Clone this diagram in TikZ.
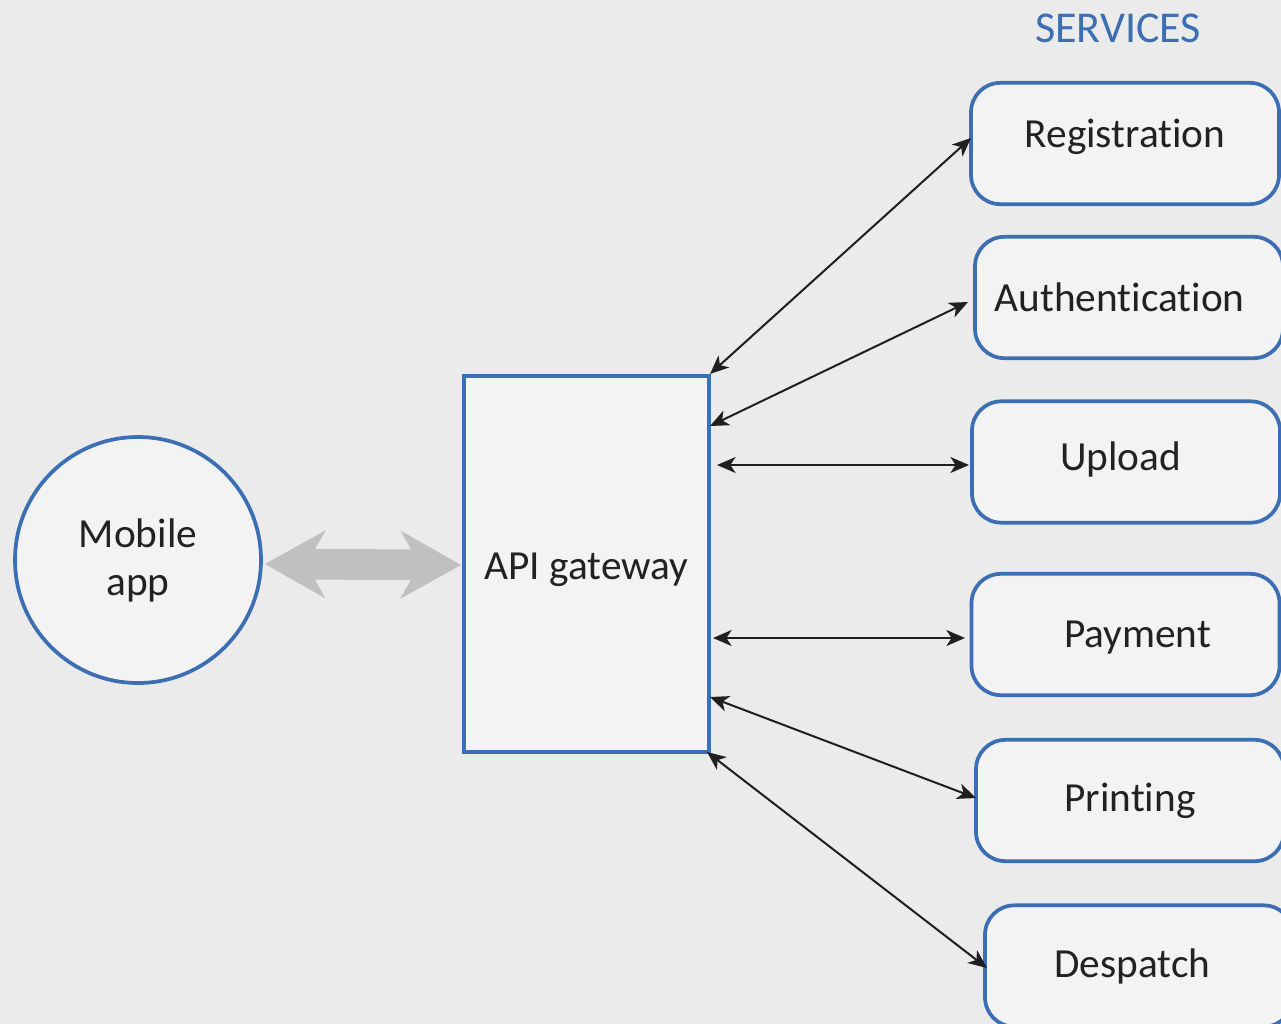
\documentclass[tikz,border=0pt]{standalone}
\usepackage{fontspec}
\setmainfont[Ligatures=NoCommon]{Carlito}
\usetikzlibrary{arrows.meta,calc}
\definecolor{bg}{HTML}{EBEBEB}
\definecolor{boxfill}{HTML}{F3F3F3}
\definecolor{boxblue}{RGB}{60,110,180}
\definecolor{txt}{HTML}{222222}
\definecolor{fat}{HTML}{C0C0C0}
\newcommand{\shiftup}[2]{\raisebox{#1}[\height][\depth]{#2}}
\tikzset{
  every node/.style={font=\fontsize{31}{36}\selectfont, text=txt},
  svc/.style={draw=boxblue, line width=2.8pt, fill=boxfill, rounded corners=22pt,
    minimum width=231pt, minimum height=91pt, inner sep=0pt},
  gate/.style={draw=boxblue, line width=2.8pt, fill=boxfill, minimum width=183.75pt,
    minimum height=282pt, inner sep=0pt},
  appc/.style={circle, draw=boxblue, line width=2.8pt, fill=boxfill, minimum size=184.5pt,
    inner sep=0pt, align=center},
  biarrow/.style={draw=black!88, line width=1.5pt,
    {Stealth[length=14pt,width=12pt,inset=4pt]}-{Stealth[length=14pt,width=12pt,inset=4pt]}},
  fatarrow/.style={draw=fat, line width=23pt,
    {Stealth[length=45pt,width=50pt,inset=14pt]}-{Stealth[length=45pt,width=50pt,inset=14pt]}},
}
\begin{document}
\begin{tikzpicture}[x=0.75pt,y=-0.75pt]
\fill[bg] (0,0) rectangle (1281,1024);
\useasboundingbox (0,0) rectangle (1281,1024);

\node[appc] (mob) at (138,560) {Mobile\\[0pt]app};
\node[gate] (api) at (586.5,564) {\shiftup{-4pt}{API gateway}};

\node[text=boxblue, font=\fontsize{33}{38}\selectfont] (svchead) at (1118,28) {SERVICES};

\node[svc] (reg) at (1125,143.5) {\shiftup{5pt}{Registration}};
\node[svc] (auth) at (1129,297.5) {\hspace*{-14pt}Authentication};
\node[svc] (upl) at (1126,462) {\shiftup{2pt}{\hspace*{-8pt}Upload}};
\node[svc] (pay) at (1125.5,634.5) {\shiftup{-2pt}{\hspace*{18pt}Payment}};
\node[svc] (prt) at (1130,800.5) {Printing};
\node[svc] (dsp) at (1139,966) {\hspace*{-10pt}Despatch};

\coordinate (g1) at (710,374);
\coordinate (g2) at (710,426);
\coordinate (g3) at (717,465);
\coordinate (g4) at (713,638);
\coordinate (g5) at (710,697);
\coordinate (g6) at (707,752);

\coordinate (s1) at (971,138);
\coordinate (s2) at (968,302);
\coordinate (s3) at (969,465);
\coordinate (s4) at (965,638);
\coordinate (s5) at (976,798);
\coordinate (s6) at (987,968);

\draw[biarrow] (g1) -- (s1);
\draw[biarrow] (g2) -- (s2);
\draw[biarrow] (g3) -- (s3);
\draw[biarrow] (g4) -- (s4);
\draw[biarrow] (g5) -- (s5);
\draw[biarrow] (g6) -- (s6);

\draw[fatarrow] ($(mob.east)+(2,4)$) -- ($(api.west)+(-1,1)$);
\end{tikzpicture}
\end{document}
